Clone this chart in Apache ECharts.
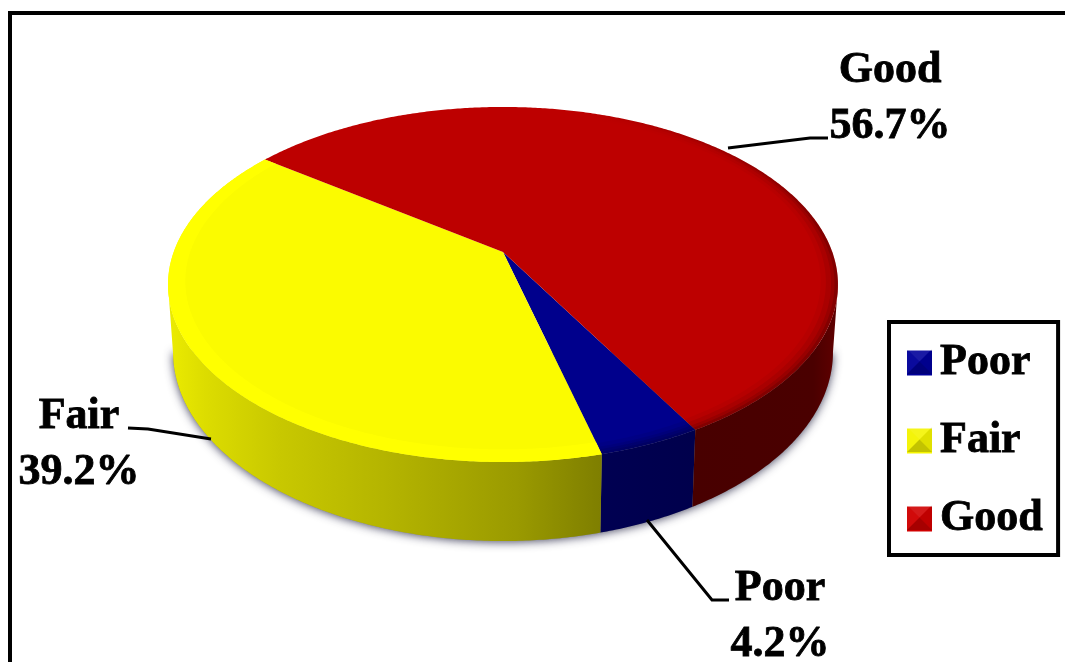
<!DOCTYPE html>
<html>
<head>
<meta charset="utf-8">
<style>html,body{margin:0;padding:0;background:#fff}#c{width:1065px;height:662px}</style>
<script src="https://cdn.jsdelivr.net/npm/echarts@6/dist/echarts.min.js"></script>
</head>
<body>
<div id="c"></div>
<script>
// ---- data ----
const categories = ['Poor', 'Fair', 'Good'];
const shares = [4.2, 39.2, 56.7];

// ---- styles ----
const topColors = ['#00008c', '#fbfb00', '#bd0000'];
const legendColors = ['#00009a', '#f4f400', '#d00000'];
const wallStops = [
  [[0, '#000052'], [1, '#00004c']],
  [[0, '#7e7e00'], [0.2, '#9a9a00'], [0.5, '#b4b400'], [0.75, '#c8c800'], [0.92, '#dcdc00'], [1, '#eaea00']],
  [[0, '#480000'], [0.85, '#4a0000'], [1, '#5e0000']]
];
const wallRange = [[600, 695], [603, 172], [690, 835]];
const rimBands = [
  [[.99, .10], [.98, .10], [.97, .08], [.955, .06]],
  [[.95, 0]],
  [[.99, .14], [.98, .10], [.965, .07], [.95, .04]]
];

// ---- layout ----
const labelPos = [[780, 617], [79, 445], [890, 99]];
const leaders = [
  [[647, 520], [712, 600], [729, 600]],
  [[211, 439], [148, 429], [128, 428]],
  [[728, 148], [810, 138], [828, 138]]
];
const startDeg = 29.4;
const PIE = {cx: 503, cy: 252, a: 329.3, b: 171.6, k: 0.183};
const RIM = {cx: 503, cy: 284.5, rx: 335, ry: 177.5};
const BASE = {cx: 503, cy: 352, rx: 330, ry: 189};
const total = shares.reduce((s, v) => s + v, 0);

function project(deg, r) {
  const t = deg * Math.PI / 180, u = r * Math.sin(t), v = r * Math.cos(t), w = 1 - PIE.k * v;
  return [PIE.cx + PIE.a * u / w, PIE.cy + PIE.b * v / w];
}
function toBase(p) {
  const c = (p[0] - RIM.cx) / RIM.rx, s = (p[1] - RIM.cy) / RIM.ry;
  return [BASE.cx + BASE.rx * c, BASE.cy + BASE.ry * s];
}
function arc(d0, d1, r) {
  const n = Math.max(2, Math.ceil(Math.abs(d1 - d0) * 2)), out = [];
  for (let i = 0; i <= n; i++) out.push(project(d0 + (d1 - d0) * i / n, r));
  return out;
}
function bandFill(idx, alpha) {
  if (!alpha) return '#ffff00';
  return new echarts.graphic.LinearGradient(560, 130, 770, 300, [
    {offset: 0, color: 'rgba(0,0,0,0)'},
    {offset: 1, color: 'rgba(0,0,0,' + alpha + ')'}
  ], true);
}
function sliceRender(idx) {
  return function (params, api) {
    const value = api.value(0);
    let before = 0;
    for (let i = 0; i < idx; i++) before += shares[i];
    const d0 = startDeg - before / total * 360;
    const d1 = d0 - value / total * 360;
    const rimPts = arc(d0, d1, 1);
    const kids = [];
    const front = rimPts.filter(p => p[1] >= RIM.cy);
    if (front.length > 1) {
      const pts = front.concat(front.slice().reverse().map(toBase));
      kids.push({
        type: 'polygon', z2: 1, shape: {points: pts},
        style: {fill: new echarts.graphic.LinearGradient(wallRange[idx][0], 0, wallRange[idx][1], 0,
          wallStops[idx].map(s => ({offset: s[0], color: s[1]})), true)}
      });
    }
    kids.push({
      type: 'polygon', z2: 2, shape: {points: [[PIE.cx, PIE.cy]].concat(rimPts)},
      style: {fill: topColors[idx]}
    });
    rimBands[idx].slice().reverse().forEach((b, j) => {
      kids.push({
        type: 'polygon', z2: 3 + j,
        shape: {points: rimPts.concat(arc(d1, d0, b[0]))},
        style: {fill: bandFill(idx, b[1])}
      });
    });
    kids.push({
      type: 'polyline', z2: 10, shape: {points: leaders[idx]},
      style: {stroke: '#000', lineWidth: 3, fill: null}
    });
    kids.push({
      type: 'text', z2: 11, x: labelPos[idx][0], y: labelPos[idx][1],
      style: {
        text: categories[idx] + '\n' + value.toFixed(1) + '%',
        font: 'bold 44px "Liberation Serif"', lineHeight: 56,
        fill: '#000', stroke: '#000', lineWidth: 0.8, align: 'center', verticalAlign: 'middle'
      }
    });
    return {type: 'group', children: kids};
  };
}

function silhouette() {
  const pts = [];
  for (let i = 0; i <= 180; i += 2) {
    const t = i * Math.PI / 180;
    pts.push([BASE.cx + BASE.rx * Math.cos(t), BASE.cy + BASE.ry * Math.sin(t)]);
  }
  return pts;
}
function bevel(x, y, s) {
  const c = [x + s / 2, y + s / 2], A = [x, y], B = [x + s, y], C = [x + s, y + s], D = [x, y + s];
  const faces = [[A, B, 'rgba(255,255,255,.10)'], [B, C, 'rgba(0,0,0,.08)'], [C, D, 'rgba(0,0,0,.20)'], [D, A, 'rgba(255,255,255,.04)']];
  return faces.map(f => ({
    type: 'polygon', z: 20, silent: true,
    shape: {points: [f[0], f[1], c]}, style: {fill: f[2]}
  }));
}

const chart = echarts.init(document.getElementById('c'), null, {renderer: 'canvas'});
chart.setOption({
  animation: false,
  backgroundColor: '#ffffff',
  legend: {
    orient: 'vertical', left: 889, top: 322,
    padding: [16, 15, 11, 18],
    itemWidth: 25, itemHeight: 25, itemGap: 28,
    borderColor: '#000', borderWidth: 4, backgroundColor: '#fff',
    data: categories.map((n, i) => ({name: n, icon: 'rect', itemStyle: {color: legendColors[i]}})),
    textStyle: {fontFamily: 'Liberation Serif', fontWeight: 'bold', fontSize: 44, color: '#000', lineHeight: 44,
      textBorderColor: '#000', textBorderWidth: 0.8, padding: [6, 0, 0, 3]},
    selectedMode: false
  },
  graphic: {elements: [
    {type: 'polyline', z: 0, silent: true, shape: {points: [[10, 662], [10, 13], [1065, 13]]},
      style: {stroke: '#000', lineWidth: 4, fill: null}},
    {type: 'polygon', z: 0, silent: true, shape: {points: silhouette()},
      style: {fill: '#888', shadowColor: 'rgba(40,40,70,.85)', shadowBlur: 10, shadowOffsetX: 0, shadowOffsetY: 1}}
  ].concat(bevel(907, 349, 25), bevel(907, 427, 25), bevel(907, 505, 25))},
  series: categories.map((n, i) => ({
    type: 'custom', name: n, coordinateSystem: 'none',
    itemStyle: {color: legendColors[i]},
    silent: true,
    renderItem: sliceRender(i),
    data: [[shares[i]]]
  }))
});
</script>
</body>
</html>
